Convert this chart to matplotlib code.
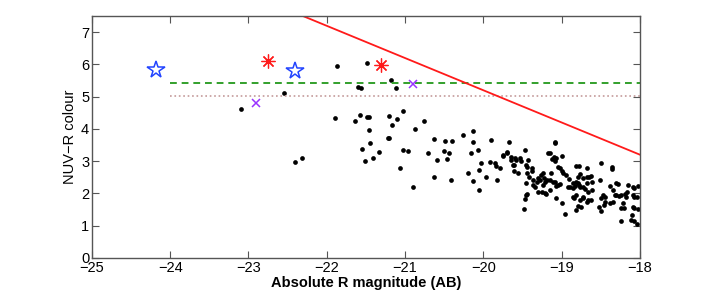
import numpy as np
import matplotlib
matplotlib.use('Agg')
from matplotlib import pyplot as plt

# galaxy sample: absolute R magnitude vs NUV-R colour
mag_r = [-21.87, -21.48, -21.18, -21.60, -21.56, -21.12, -22.54, -23.09, -21.89, -22.31,
         -22.40, -21.64, -21.57, -21.49, -21.46, -21.20, -21.17, -21.10, -21.02, -21.46,
         -21.22, -21.20, -21.55, -21.45, -21.33, -21.41, -21.51, -20.87, -20.76, -21.02,
         -20.96, -21.06, -20.90, -20.71, -20.63, -20.59, -20.63, -20.49, -20.40, -20.50,
         -20.44, -20.46, -20.41, -20.26, -20.13, -20.13, -20.16, -20.07, -20.20, -20.13,
         -20.05, -20.03, -20.05, -19.96, -19.90, -19.91, -19.85, -19.84, -19.79, -19.82,
         -19.75, -19.70, -19.67, -19.65, -19.61, -19.61, -19.56, -19.58, -19.53, -19.52,
         -19.47, -19.43, -19.44, -19.38, -19.44, -19.41, -19.45, -19.36, -19.32, -19.28,
         -19.24, -19.22, -19.19, -19.14, -19.15, -19.17, -19.08, -19.12, -19.10, -19.07,
         -19.00, -19.02, -19.09, -19.05, -19.07, -19.36, -19.34, -19.30, -19.25, -19.20,
         -19.15, -19.48, -19.47, -19.44, -19.07, -19.00, -18.95, -18.98, -18.94, -18.92,
         -18.89, -18.90, -18.86, -18.85, -18.83, -18.81, -18.79, -18.78, -18.76, -18.82,
         -18.78, -18.79, -18.77, -18.73, -18.72, -18.68, -18.67, -18.65, -18.70, -18.86,
         -18.84, -18.81, -18.77, -18.73, -18.72, -18.66, -18.61, -18.62, -18.79, -18.82,
         -18.75, -18.68, -18.63, -18.61, -18.49, -18.51, -18.36, -18.36, -18.47, -18.49,
         -18.45, -18.52, -18.49, -18.46, -18.45, -18.38, -18.31, -18.28, -18.34, -18.32,
         -18.30, -18.27, -18.24, -18.34, -18.38, -18.19, -18.18, -18.15, -18.09, -18.07,
         -18.02, -18.09, -18.07, -18.04, -18.22, -18.24, -18.20, -18.09, -18.07, -18.02,
         -18.24, -18.10, -18.11, -18.08, -18.03, -19.75, -19.70, -19.64, -19.60, -19.62,
         -19.45, -19.38, -19.30, -19.26, -19.21, -19.24, -19.11, -19.02, -19.21, -19.45,
         -19.09, -19.15, -19.04, -19.00, -19.09, -18.17, -18.66, -18.68]
nuv_r = [5.94, 6.05, 5.51, 5.31, 5.27, 5.27, 5.12, 4.63, 4.35, 3.10,
         2.96, 4.26, 4.42, 4.37, 4.37, 4.39, 4.12, 4.32, 4.55, 3.96,
         3.72, 3.73, 3.39, 3.55, 3.29, 3.11, 2.99, 4.01, 4.26, 3.33,
         3.32, 2.80, 2.19, 3.26, 3.68, 3.04, 2.50, 3.61, 3.61, 3.32,
         3.25, 3.07, 2.40, 3.82, 3.94, 3.58, 3.25, 3.33, 2.64, 2.39,
         2.11, 2.94, 2.73, 2.52, 3.67, 2.98, 2.94, 2.85, 2.78, 2.41,
         3.16, 3.27, 3.59, 3.04, 2.88, 2.68, 2.63, 3.04, 3.09, 3.01,
         3.33, 3.02, 2.83, 2.78, 2.64, 2.52, 2.31, 2.42, 2.36, 2.42,
         2.64, 2.47, 2.42, 2.63, 2.42, 3.25, 3.59, 3.06, 3.14, 3.09,
         3.16, 2.78, 2.36, 2.26, 2.23, 2.26, 2.19, 2.05, 2.03, 1.97,
         2.11, 1.52, 1.83, 1.97, 1.87, 1.69, 1.36, 2.64, 2.57, 2.19,
         2.21, 2.44, 2.31, 2.16, 2.23, 2.36, 2.33, 2.26, 2.19, 2.85,
         2.85, 2.52, 2.60, 2.47, 2.19, 2.52, 2.33, 2.50, 2.13, 1.90,
         1.85, 1.95, 1.80, 1.90, 1.85, 2.05, 2.11, 1.80, 1.61, 1.48,
         1.59, 2.78, 2.54, 2.36, 2.94, 2.42, 2.83, 2.75, 1.95, 1.85,
         1.90, 1.59, 1.45, 1.64, 1.74, 2.23, 2.33, 2.28, 2.11, 1.95,
         1.95, 1.92, 1.95, 1.74, 1.71, 1.98, 1.90, 2.26, 2.21, 2.16,
         2.23, 1.95, 1.90, 1.90, 1.71, 1.54, 1.54, 1.59, 1.54, 1.51,
         1.14, 1.33, 1.17, 1.14, 1.04, 3.20, 3.25, 3.14, 3.09, 2.88,
         2.88, 2.68, 2.47, 2.57, 2.36, 2.26, 2.36, 2.29, 2.00, 1.95,
         3.56, 3.25, 2.83, 2.68, 2.99, 2.03, 1.80, 1.74]

star_x = [-24.18, -22.40]
star_y = [5.84, 5.79]
ast_x = [-22.75, -21.31]
ast_y = [6.12, 5.97]
cross_x = [-22.90, -20.90]
cross_y = [4.80, 5.38]

green_x = [-24.0, -18.0]
green_y = [5.43, 5.43]
dotted_x = [-24.0, -18.0]
dotted_y = [5.01, 5.01]
red_x = [-22.3, -18.0]
red_y = [7.5, 3.2]

plt.rcParams['font.family'] = ['Liberation Sans', 'DejaVu Sans']
plt.rcParams['font.size'] = 10

fig = plt.figure(figsize=(7.07, 2.99), dpi=100)
ax = fig.add_axes([0.130, 0.138, 0.775, 0.808])

ax.plot(mag_r, nuv_r, 'o', color='black', markersize=3.4, markeredgewidth=0)
ax.plot(green_x, green_y, '--', color='#33a02c', linewidth=1.4, dashes=(3.5, 2.5))
ax.plot(dotted_x, dotted_y, ':', color='#c49a9a', linewidth=1.2)
ax.plot(red_x, red_y, '-', color='#ff1a1a', linewidth=1.3)
ax.plot(star_x, star_y, '*', markersize=13, markerfacecolor='none',
        markeredgecolor='#2244ff', markeredgewidth=1.1)
ax.plot(ast_x, ast_y, linestyle='none', marker=(8, 2, 0), markersize=10,
        color='#ff1a1a', markeredgewidth=0.9)
ax.plot(cross_x, cross_y, 'x', markersize=6, color='#9933ff', markeredgewidth=1.1)

ax.set_xlim(-25, -18)
ax.set_ylim(0, 7.5)
ax.set_xticks(np.arange(-25, -17, 1))
ax.set_yticks(np.arange(0, 8, 1))
ax.tick_params(direction='in', top=True, right=True, length=5, width=0.8,
               color='#555555', labelsize=10.5, pad=2)
for s in ax.spines.values():
    s.set_color('#555555')
    s.set_linewidth(1.0)

ax.set_xlabel('Absolute R magnitude (AB)', fontweight='bold', fontsize=10.5, labelpad=1)
ax.set_ylabel('NUV\u2212R colour', fontsize=10.5, labelpad=3)

fig.savefig('out.png', dpi=100)
